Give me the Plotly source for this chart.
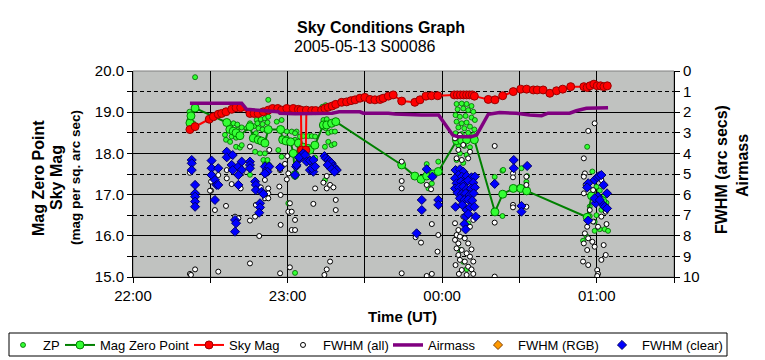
import pandas as pd
import plotly.graph_objects as go

# ---------------- data (time = minutes after 22:00 UT on 2005-05-13) ----------------
start_time = "2005-05-13 22:00"
end_time = "2005-05-14 01:30"

# ZP (small green dots, left axis, mag)
zp_min = [24.1, 21.9, 21.9, 23.4, 23.2, 35.7, 36.1, 37.7, 39.0, 40.5, 38.7, 40.5, 42.2, 44.1, 38.3, 40.0,
          40.0, 41.5, 42.2, 45.4, 47.0, 48.0, 49.6, 51.2, 52.5, 48.3, 50.3, 52.2, 48.7, 50.3, 51.9, 47.7,
          52.5, 55.8, 57.7, 59.7, 61.6, 63.5, 57.7, 59.7, 60.9, 56.4, 57.7, 47.4, 49.3, 51.2, 50.6, 52.2,
          51.2, 52.8, 45.4, 60.3, 62.9, 37.7,
          62.9, 64.8, 66.1, 68.1, 69.4, 70.7, 62.9, 64.2, 62.9, 70.7, 73.5, 74.8, 75.8, 77.1, 73.9, 75.2,
          73.5, 74.8, 75.8, 77.1, 78.4, 74.5, 75.8, 77.1, 78.2, 74.5, 114.0, 114.7, 116.0, 118.5,
          125.6, 127.6, 129.5, 131.4, 126.0, 128.2, 130.1, 132.1, 125.2, 126.9, 129.1, 131.4, 132.7, 125.6,
          127.6, 129.5, 126.3, 128.6, 130.8, 132.5, 125.2, 127.6, 130.1, 132.1, 126.3, 128.6, 130.8, 126.9,
          129.5, 125.6, 128.2, 126.3, 128.8, 127.6, 130.1, 128.2, 129.5, 126.9,
          143.4, 143.4, 140.4, 150.8, 153.0, 150.1, 152.7, 176.3, 178.3, 179.9, 178.6, 181.2, 182.7, 183.8,
          177.3, 179.9, 181.8, 179.2, 181.2, 183.1, 184.4, 174.7, 176.0, 179.2, 177.3, 143.7]
zp_mag = [19.85, 19.01, 18.81, 18.73, 18.61, 18.45, 18.33, 18.69, 18.73, 18.70, 18.58, 18.57, 18.63, 18.61, 18.41, 18.38,
          18.16, 18.14, 18.20, 18.73, 18.66, 18.81, 18.83, 18.85, 18.89, 18.73, 18.71, 18.75, 18.61, 18.58, 18.55, 18.49,
          19.30, 18.77, 18.81, 18.53, 18.53, 18.53, 18.37, 18.37, 18.28, 18.08, 17.92, 18.04, 18.00, 18.00, 17.84, 17.84,
          17.74, 17.72, 17.48, 16.79, 15.10, 18.28,
          18.49, 18.41, 18.42, 18.42, 18.42, 18.41, 18.33, 18.20, 17.43, 17.90, 19.13, 19.17, 19.13, 19.15, 18.81, 18.83,
          18.65, 18.61, 18.50, 18.53, 18.53, 18.16, 18.28, 18.20, 18.23, 17.35, 17.74, 17.15, 17.27, 17.80,
          19.20, 19.21, 19.20, 19.15, 19.07, 19.09, 19.05, 19.01, 18.93, 18.89, 18.91, 18.87, 18.81, 18.77,
          18.73, 18.75, 18.63, 18.61, 18.65, 18.58, 18.49, 18.47, 18.50, 18.45, 18.20, 18.18, 18.15, 18.00,
          17.96, 17.84, 17.77, 17.60, 17.43, 17.23, 16.30, 15.37, 15.19, 15.66,
          17.58, 16.48, 17.43, 17.64, 17.45, 17.18, 17.31, 18.16, 17.56, 17.19, 17.03, 17.10, 16.95, 16.80,
          16.71, 16.50, 16.63, 16.12, 16.16, 16.16, 16.12, 15.88, 15.99, 16.34, 16.48, 17.60]

# Mag Zero Point (green line + markers, left axis)
mzp_min = [22.1, 22.5, 24.1, 36.4, 37.6, 38.9, 40.0, 41.5, 45.4, 46.7, 48.6, 49.9, 51.2, 52.5, 57.3, 58.1,
           59.4, 61.2, 62.2, 62.9, 64.2, 66.1, 68.0, 68.7, 70.6, 73.9, 75.2, 77.1, 78.7, 104.3, 109.4, 111.8,
           114.0, 116.5, 118.5, 125.6, 127.6, 129.5, 132.5, 140.5, 143.5, 147.6, 150.5, 152.8, 176.3, 178.0,
           180.2, 182.3]
mzp_mag = [18.74, 18.91, 19.10, 18.75, 18.58, 18.54, 18.50, 18.43, 18.65, 18.37, 18.33, 18.30, 18.25, 18.58, 18.58, 18.33,
           18.30, 18.28, 18.00, 17.48, 18.25, 18.15, 18.12, 18.08, 18.20, 18.69, 18.69, 18.73, 18.77, 17.72, 17.45, 17.37,
           17.45, 17.50, 17.56, 18.31, 18.31, 18.33, 18.33, 16.58, 17.01, 17.15, 17.15, 17.09, 16.45, 16.97,
           16.91, 16.85]

# Sky Mag (red line + markers, left axis)
sky_min = [22.1, 24.1, 29.6, 31.2, 33.1, 34.4, 36.1, 38.3, 40.0, 41.8, 45.4, 47.0, 48.6, 50.6, 52.5, 54.2,
           56.2, 57.7, 59.7, 62.2, 64.2, 65.2, 65.4, 67.1, 67.3, 69.4, 70.9, 73.2, 74.5, 75.8, 77.3, 78.7,
           81.0, 82.9, 84.6, 86.2, 88.1, 90.0, 92.0, 93.9, 95.9, 97.1, 99.1, 101.0, 104.3, 109.4, 111.4, 113.7,
           115.9, 118.3, 124.7, 125.9, 127.1, 128.3, 129.5, 130.6, 131.7, 132.5, 137.9, 140.5, 143.5, 147.6,
           150.5, 152.8, 155.4, 156.9, 159.2, 161.8, 164.4, 166.8, 169.9, 175.0, 176.3, 177.4, 178.9, 180.2,
           181.5, 182.8, 184.1]
sky_mag = [18.58, 18.65, 18.83, 18.89, 18.95, 18.97, 19.01, 19.07, 19.11, 19.11, 18.97, 18.97, 18.97, 19.01, 19.05, 19.09,
           19.09, 19.05, 19.09, 19.09, 19.07, 19.05, 18.08, 18.08, 19.05, 19.04, 19.04, 19.05, 19.09, 19.12, 19.15, 19.19,
           19.24, 19.25, 19.28, 19.30, 19.34, 19.36, 19.31, 19.30, 19.31, 19.34, 19.39, 19.42, 19.27, 19.24, 19.30, 19.39,
           19.40, 19.40, 19.42, 19.42, 19.42, 19.42, 19.42, 19.42, 19.42, 19.39, 19.31, 19.30, 19.40, 19.50,
           19.56, 19.56, 19.54, 19.54, 19.54, 19.46, 19.52, 19.56, 19.62, 19.62, 19.60, 19.64, 19.68, 19.64,
           19.64, 19.62, 19.64]

# FWHM (all) (white circles, right axis, arc secs)
fwhm_all_min = [22.1, 24.1, 30.3, 30.3, 31.8, 33.1, 36.4, 36.4, 38.3, 39.6, 40.9, 42.2, 41.8, 45.4, 45.4, 45.4,
                33.1, 47.4, 47.7, 49.0, 51.2, 51.2, 51.2, 52.5, 52.5, 52.5, 49.6, 52.9, 57.1, 56.8, 57.3, 57.3,
                57.1, 59.0, 59.9, 60.3, 59.7, 60.9, 60.3, 61.6, 61.6, 62.9, 62.9, 60.9,
                73.9, 75.2, 76.5, 77.8, 70.7, 75.2, 75.8, 70.0, 78.7, 78.7, 76.5, 75.2, 74.3,
                104.3, 104.3, 104.3, 116.0, 109.7, 111.8, 104.3, 114.0, 116.0, 118.5, 114.0, 115.7, 118.2,
                125.6, 126.9, 125.0, 128.8, 126.3, 130.1, 125.6, 127.6, 131.4, 129.5, 126.3, 130.8, 126.9, 128.8,
                132.1, 125.2, 130.1, 127.6, 131.4, 126.5, 129.5, 132.1, 128.2, 132.1, 125.0, 130.8, 126.3,
                125.6, 127.6, 130.1, 126.3, 130.8, 128.2, 125.0, 126.9,
                140.4, 140.4, 147.5, 147.5, 147.5, 147.5, 152.7, 152.7, 152.7, 140.4,
                179.2, 176.7, 175.0, 175.4, 175.0, 175.7, 175.0, 178.6, 177.3, 176.3, 175.4, 176.7, 175.0, 178.3,
                176.3, 179.2, 174.7, 176.7, 180.2, 180.5, 180.2, 182.7, 183.5, 181.8, 183.8, 181.8, 183.5, 181.8,
                178.6, 180.5,
                22.1, 29.9, 36.1, 22.5]
fwhm_all = [9.85, 9.63, 5.37, 5.81, 6.75, 5.05, 4.81, 5.21, 5.49, 7.07, 7.15, 4.97, 5.70, 3.67, 7.26, 9.34,
            9.74, 7.07, 6.50, 8.01, 5.29, 5.94, 6.18, 5.70, 5.94, 6.18, 5.65, 3.83, 4.81, 5.61, 6.02, 7.47,
            9.82, 4.51, 4.13, 4.97, 5.26, 6.42, 6.83, 6.83, 7.72, 7.72, 7.23, 9.53,
            5.42, 5.70, 5.53, 5.65, 5.70, 5.10, 4.64, 6.45, 6.26, 6.75, 9.25, 9.63, 9.90,
            5.34, 5.70, 4.40, 7.43, 8.07, 8.33, 9.82, 9.95, 9.85, 7.96, 5.53, 5.74, 8.77,
            7.96, 8.04, 8.20, 8.12, 8.37, 8.37, 8.61, 8.69, 8.66, 8.85, 8.93, 9.01, 9.17, 9.25,
            9.25, 9.42, 9.50, 9.66, 9.63, 9.85, 9.90, 9.85, 7.07, 7.23, 7.39, 7.56, 7.72,
            4.24, 4.32, 4.24, 3.83, 3.92, 3.59, 3.27, 3.11,
            3.64, 7.36, 4.97, 5.16, 6.50, 6.62, 6.59, 5.13, 5.53, 9.98,
            2.54, 2.91, 4.24, 4.97, 5.13, 5.53, 5.94, 5.78, 6.75, 7.56, 7.88, 8.12, 8.37, 8.29,
            8.69, 8.53, 9.25, 9.42, 9.66, 9.85, 9.95, 8.45, 8.93, 9.17, 7.43, 7.07, 6.83, 5.29,
            7.31, 7.56,
            4.94, 5.81, 6.55, 9.90]

# Airmass (purple line, right axis)
air_min = [22.1, 42.2, 44.1, 56.4, 57.0, 63.0, 77.3, 80.0, 88.1, 89.4, 99.1, 101.7, 112.0, 118.6, 124.1, 126.1,
           131.2, 133.4, 137.9, 142.3, 148.8, 154.0, 158.6, 161.1, 169.5, 172.1, 176.0, 184.4]
airmass = [1.57, 1.57, 1.86, 1.98, 2.05, 2.08, 2.05, 1.98, 1.98, 2.05, 2.05, 2.09, 2.14, 2.14, 3.11, 3.19,
           3.19, 3.11, 2.10, 2.02, 2.05, 2.14, 2.17, 2.05, 2.05, 1.93, 1.81, 1.78]

# FWHM (RGB) (orange diamonds, right axis) - no points visible on this night
fwhm_rgb_min = [None]
fwhm_rgb = [None]

# FWHM (clear) (blue diamonds, right axis)
fwhm_clear_min = [22.8, 22.8, 22.8, 24.1, 24.1, 24.1, 24.1, 24.1,
                  30.5, 30.5, 30.5, 31.8, 32.5, 33.1, 33.1, 31.8,
                  36.4, 36.4, 38.7, 38.3, 38.7, 40.9, 42.2, 42.2, 40.9, 40.9, 39.6, 40.0, 39.6,
                  45.4, 45.4, 45.4, 47.4, 47.7, 47.7, 49.9, 50.6, 49.3, 49.3, 49.0,
                  51.2, 51.9, 52.9, 52.2, 51.2, 57.1, 63.3,
                  63.5, 64.8, 66.1, 64.5, 66.8, 67.4, 68.7, 70.0, 68.7, 70.0, 69.4, 70.7, 62.9,
                  74.3, 74.8, 75.8, 76.5, 77.1, 77.8, 78.4, 79.1, 75.6, 77.1, 78.2,
                  114.0, 116.2, 112.1, 112.1, 118.5, 118.5, 110.1,
                  125.2, 126.9, 128.2, 126.3, 125.0, 127.6, 129.5, 131.4, 132.7, 125.6, 127.3, 128.8, 130.1,
                  132.1, 125.0, 126.5, 128.2, 129.5, 131.2, 132.7, 126.0, 127.6, 129.1, 130.7, 132.2, 126.9,
                  128.6, 130.1, 131.7, 125.2, 127.8, 129.5, 130.8, 132.5, 129.1, 130.1, 128.6, 129.1, 133.0,
                  147.8, 147.8, 153.0, 140.4, 150.8, 150.8,
                  179.2, 180.2, 180.9, 181.8, 176.7, 176.3, 182.7, 184.0, 180.5, 179.6, 182.5, 183.1, 184.0,
                  179.2, 181.2, 176.7]
fwhm_clear = [4.32, 4.48, 4.81, 5.53, 5.94, 6.10, 6.34, 6.59,
              4.35, 4.72, 5.05, 5.29, 5.53, 4.72, 5.53, 6.26,
              3.92, 4.19, 4.08, 4.56, 4.81, 4.64, 4.40, 4.81, 5.05, 5.53, 7.23, 7.39, 7.80,
              4.40, 4.56, 4.72, 5.37, 5.53, 5.78, 5.86, 5.97, 6.42, 6.62, 6.88,
              4.64, 4.81, 4.64, 4.89, 4.97, 4.68, 4.64,
              4.56, 4.24, 4.00, 4.19, 4.08, 4.40, 4.35, 4.32, 4.81, 4.89, 4.72, 4.64, 5.05,
              4.13, 4.24, 4.32, 4.40, 4.48, 4.64, 4.72, 4.81, 4.56, 4.77, 4.89,
              4.77, 5.13, 6.26, 6.75, 6.26, 6.50, 7.88,
              4.81, 4.77, 4.89, 5.05, 5.21, 5.13, 5.10, 5.16, 5.13, 5.45, 5.37, 5.42, 5.32,
              5.42, 5.70, 5.65, 5.61, 5.74, 5.70, 5.65, 5.91, 5.97, 5.94, 6.02, 5.94, 6.18,
              6.26, 6.23, 6.29, 6.59, 6.50, 6.75, 6.62, 6.59, 7.07, 6.94, 7.43, 7.69, 7.07,
              4.32, 4.72, 4.61, 5.48, 6.55, 6.83,
              5.29, 5.16, 5.10, 5.05, 5.45, 5.65, 5.53, 5.94, 6.10, 6.42, 6.50, 6.59, 6.67,
              6.18, 6.26, 7.26]

title_text = "Sky Conditions Graph"
subtitle_text = "2005-05-13 S00086"
x_title = "Time (UT)"
left_titles = ["Mag Zero Point", "Sky Mag", "(mag per sq. arc sec)"]
right_titles = ["FWHM (arc secs)", "Airmass"]

# ---------------- helpers ----------------
base = pd.Timestamp(start_time)


def to_time(mins):
    return [None if m is None else base + pd.Timedelta(minutes=m) for m in mins]


FONT = "Arial, Liberation Sans, sans-serif"

# the page shows the figure offset by the body margin (8 px); layout is expressed in page pixels
OFF = 8
W, H = 765 - OFF, 360 - OFF
PL, PR, PT, PB = 133, 674, 71, 277          # plot area in page pixels
L, T = PL - OFF, PT - OFF
R, B = W - (PR - OFF), H - (PB - OFF)
pw, ph = PR - PL, PB - PT


def px_x(px):
    return (px - PL) / pw


def px_y(py):
    return (PB - py) / ph


fig = go.Figure()

fig.add_trace(go.Scatter(
    x=to_time(zp_min), y=zp_mag, name="ZP", mode="markers", legend="legend",
    marker=dict(symbol="circle", size=5, color="#33ff33", line=dict(color="#006400", width=0.8)),
    yaxis="y"))
fig.add_trace(go.Scatter(
    x=to_time(mzp_min), y=mzp_mag, name="Mag Zero Point", mode="lines+markers", legend="legend2",
    line=dict(color="#008000", width=2),
    marker=dict(symbol="circle", size=8, color="#33ff33", line=dict(color="#008000", width=1)),
    yaxis="y"))
fig.add_trace(go.Scatter(
    x=to_time(sky_min), y=sky_mag, name="Sky Mag", mode="lines+markers", legend="legend3",
    line=dict(color="#ff0000", width=2),
    marker=dict(symbol="circle", size=8, color="#ff0000", line=dict(color="#990000", width=1)),
    yaxis="y"))
fig.add_trace(go.Scatter(
    x=to_time(fwhm_all_min), y=fwhm_all, name="FWHM (all)", mode="markers", legend="legend4",
    marker=dict(symbol="circle", size=5, color="#ffffff", line=dict(color="#000000", width=1)),
    yaxis="y2"))
fig.add_trace(go.Scatter(
    x=to_time(air_min), y=airmass, name="Airmass", mode="lines", legend="legend5",
    line=dict(color="#800080", width=3.5),
    yaxis="y2"))
fig.add_trace(go.Scatter(
    x=to_time(fwhm_rgb_min), y=fwhm_rgb, name="FWHM (RGB)", mode="markers", legend="legend6",
    marker=dict(symbol="diamond", size=7, color="#ff9900", line=dict(color="#804000", width=1)),
    yaxis="y2"))
fig.add_trace(go.Scatter(
    x=to_time(fwhm_clear_min), y=fwhm_clear, name="FWHM (clear)", mode="markers", legend="legend7",
    marker=dict(symbol="diamond", size=7, color="#0000ff", line=dict(color="#000066", width=1)),
    yaxis="y2"))

# legend entries: left edge of each entry in page pixels
legend_left = [3, 60, 189, 283, 388, 478, 602]
legend_mid_y = 345
legends = {}
for i, lx in enumerate(legend_left):
    key = "legend" if i == 0 else "legend%d" % (i + 1)
    legends[key] = dict(orientation="h", x=px_x(lx), y=px_y(legend_mid_y), xanchor="left",
                        yanchor="middle", bgcolor="rgba(0,0,0,0)", borderwidth=0, itemwidth=30,
                        font=dict(size=13, family=FONT, color="black"), itemsizing="trace")

fig.update_layout(
    width=W, height=H,
    margin=dict(l=L, r=R, t=T, b=B, autoexpand=False),
    paper_bgcolor="white",
    plot_bgcolor="#c0c2c0",
    font=dict(family=FONT, color="black", size=15),
    showlegend=True,
    xaxis=dict(type="date", range=[start_time, end_time], tickformat="%H:%M",
               tick0=start_time, dtick=3600000, showgrid=True, gridcolor="black", gridwidth=1,
               ticks="outside", ticklen=5, tickcolor="black", showline=True, linecolor="black",
               zeroline=False, tickfont=dict(size=15), automargin=False,
               minor=dict(dtick=1800000, showgrid=True, gridcolor="black", gridwidth=1,
                          ticks="outside", ticklen=5, tickcolor="black")),
    yaxis=dict(range=[15, 20], dtick=1, tickformat=".1f", showgrid=True, gridcolor="black",
               gridwidth=1, ticks="outside", ticklen=5, tickcolor="black", showline=True,
               linecolor="black", zeroline=False, tickfont=dict(size=15), automargin=False,
               minor=dict(dtick=0.5, showgrid=True, gridcolor="black", griddash="4px,3px",
                          ticks="outside", ticklen=5, tickcolor="black")),
    yaxis2=dict(overlaying="y", side="right", range=[10, 0], dtick=1, showgrid=False,
                ticks="outside", ticklen=5, tickcolor="black", showline=True, linecolor="black",
                zeroline=False, tickfont=dict(size=15), automargin=False),
    **legends,
)

# plot-area frame (grey) and legend box (black)
fig.add_shape(type="rect", xref="paper", yref="paper", x0=0, x1=1, y0=0, y1=1,
              line=dict(color="#808080", width=1), layer="below")
fig.add_shape(type="rect", xref="paper", yref="paper", x0=px_x(9), x1=px_x(727),
              y0=px_y(356), y1=px_y(333), line=dict(color="black", width=1),
              fillcolor="white", layer="below")

ann = [
    dict(text="<b>" + title_text + "</b>", x=px_x(381), y=px_y(27), font=dict(size=16)),
    dict(text=subtitle_text, x=px_x(365), y=px_y(46), font=dict(size=16)),
    dict(text="<b>" + x_title + "</b>", x=px_x(402), y=px_y(316), font=dict(size=15)),
    dict(text="<b>" + left_titles[0] + "</b>", x=px_x(38), y=px_y(178), font=dict(size=16), textangle=-90),
    dict(text="<b>" + left_titles[1] + "</b>", x=px_x(56), y=px_y(178), font=dict(size=16), textangle=-90),
    dict(text="<b>" + left_titles[2] + "</b>", x=px_x(75), y=px_y(178), font=dict(size=13.5), textangle=-90),
    dict(text="<b>" + right_titles[0] + "</b>", x=px_x(721), y=px_y(170), font=dict(size=16), textangle=-90),
    dict(text="<b>" + right_titles[1] + "</b>", x=px_x(742), y=px_y(166), font=dict(size=16), textangle=-90),
]
for a in ann:
    fig.add_annotation(xref="paper", yref="paper", showarrow=False, xanchor="center", yanchor="middle",
                       **a)

fig.write_html("out.html")
